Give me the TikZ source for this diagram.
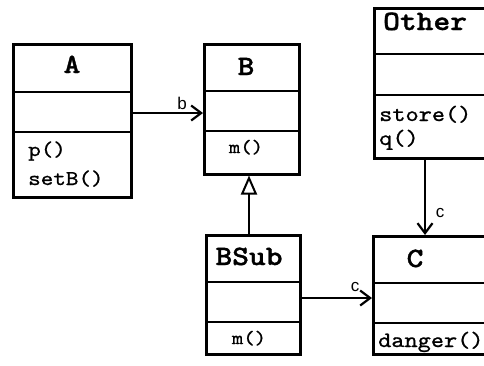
\documentclass[tikz,border=0pt]{standalone}
\usepackage{fontspec}
\newfontfamily\namefont{lmmonolt10-bold.otf}[FakeStretch=1.14, FakeBold=1.2]
\newfontfamily\methfont{lmmono10-regular.otf}[FakeStretch=1.14, FakeBold=0.9]
\newfontfamily\labelfont{Liberation Sans}
\usetikzlibrary{arrows.meta}

\tikzset{
  classbox/.style={draw, line width=2.5pt, inner sep=0pt, anchor=north west},
  divider/.style={line width=1.6pt},
  cname/.style={inner sep=0pt, anchor=base, font=\namefont\fontsize{28}{32}\selectfont},
  meth/.style={inner sep=0pt, anchor=base west, font=\methfont\fontsize{22}{26}\selectfont},
  methc/.style={inner sep=0pt, anchor=base, font=\methfont\fontsize{19}{22}\selectfont},
  assoc/.style={line width=1.6pt, -{Straight Barb[length=10pt, width=15pt, line width=2.2pt]}},
  inherit/.style={line width=1.6pt, -{Triangle[open, length=19pt, width=16pt, line width=2pt]}},
  rolelabel/.style={inner sep=0pt, font=\labelfont\fontsize{17}{19}\selectfont},
}

\begin{document}
\begin{tikzpicture}[x=1pt, y=-1pt]
  \clip (0,0) rectangle (484,365);
  \fill[white] (0,0) rectangle (484,365);

  % class A
  \node[classbox, minimum width=118pt, minimum height=153pt] (A) at (12,43) {};
  \draw[divider] (A.west |- 0,92) -- (A.east |- 0,92);
  \draw[divider] (A.west |- 0,132) -- (A.east |- 0,132);
  \node[cname] (Aname) at (72,73) {A};
  \node[meth, font=\methfont\fontsize{21}{24}\selectfont] (Ap) at (28,156) {p()};
  \node[meth, font=\methfont\fontsize{21}{24}\selectfont] (AsetB) at (28,185) {setB()};

  % class B
  \node[classbox, minimum width=95pt, minimum height=130pt] (B) at (203,43) {};
  \draw[divider] (B.west |- 0,91) -- (B.east |- 0,91);
  \draw[divider] (B.west |- 0,131) -- (B.east |- 0,131);
  \node[cname] (Bname) at (246,75) {B};
  \node[methc] (Bm) at (246,153) {m()};

  % class BSub
  \node[classbox, minimum width=94pt, minimum height=119pt] (BSub) at (205,234) {};
  \draw[divider] (BSub.west |- 0,282) -- (BSub.east |- 0,282);
  \draw[divider] (BSub.west |- 0,322) -- (BSub.east |- 0,322);
  \node[cname] (BSubname) at (249,265) {BSub};
  \node[methc] (BSubm) at (249,344) {m()};

  % class Other (runs past the right edge)
  \node[classbox, minimum width=130pt, minimum height=150pt] (Other) at (373,7) {};
  \draw[divider] (Other.west |- 0,54) -- (Other.east |- 0,54);
  \draw[divider] (Other.west |- 0,95) -- (Other.east |- 0,95);
  \node[cname, anchor=base west] (Othername) at (383,30) {Other};
  \node[meth] (Ostore) at (379,121) {store()};
  \node[meth] (Oq) at (379,145) {q()};

  % class C (runs past the right edge)
  \node[classbox, minimum width=130pt, minimum height=118pt] (C) at (372,235) {};
  \draw[divider] (C.west |- 0,283) -- (C.east |- 0,283);
  \draw[divider] (C.west |- 0,323) -- (C.east |- 0,323);
  \node[cname] (Cname) at (415,267) {C};
  \node[meth] (Cdanger) at (378,347) {danger()};

  % connectors
  \coordinate (abrow) at (0,113);
  \draw[assoc] (A.east |- abrow) -- (B.west |- abrow);
  \node[rolelabel] (lb) at (182,103) {b};

  \draw[inherit] (BSub.north -| 249,0) -- (B.south -| 249,0);

  \coordinate (bcrow) at (0,298);
  \draw[assoc] (BSub.east |- bcrow) -- (C.west |- bcrow);
  \node[rolelabel] (lc1) at (355,287) {c};

  \coordinate (occol) at (425,0);
  \draw[assoc] (Other.south -| occol) -- (C.north -| occol);
  \node[rolelabel] (lc2) at (440,213) {c};
\end{tikzpicture}
\end{document}
